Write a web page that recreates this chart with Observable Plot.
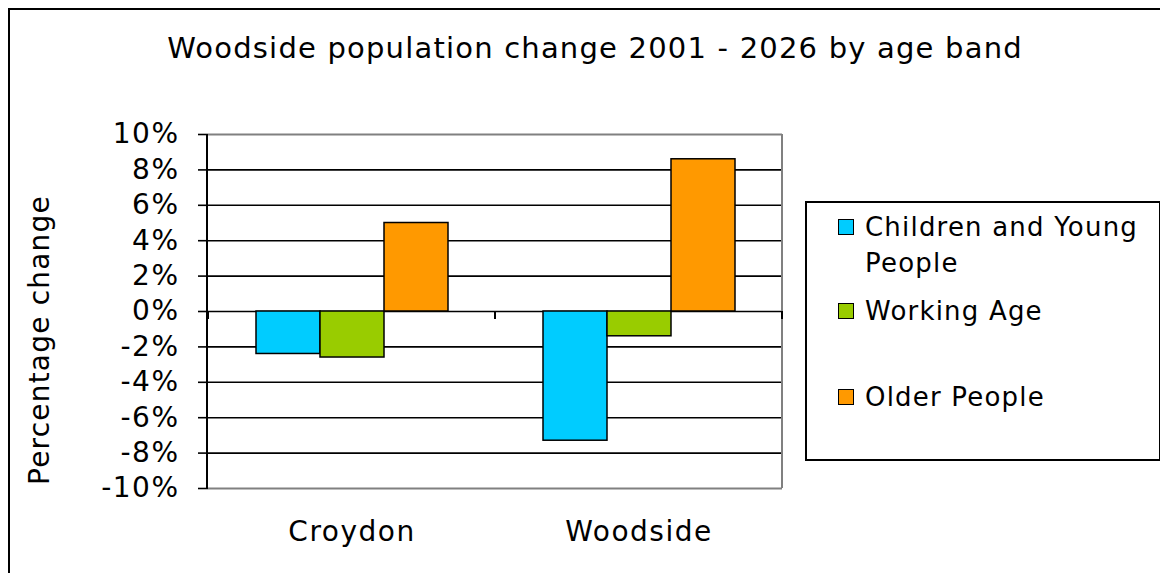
<!DOCTYPE html>
<html><head><meta charset="utf-8">
<script src="https://cdn.jsdelivr.net/npm/d3@7"></script>
<script src="https://cdn.jsdelivr.net/npm/@observablehq/plot@0.6"></script>
<style>
body{margin:0;background:#fff;font-family:"DejaVu Sans",sans-serif;}
#wrap{position:relative;width:1160px;height:573px;overflow:hidden;background:#fff;}
#border{position:absolute;left:8px;top:8px;width:1300px;height:800px;border:2px solid #000;box-sizing:border-box;}
#chart{position:absolute;left:0;top:0;}
#title{position:absolute;left:0;top:30px;width:1190px;text-align:center;font-size:29px;line-height:36px;letter-spacing:1.2px;white-space:nowrap;}
#ylabel{position:absolute;left:-160px;top:322px;width:400px;height:36px;text-align:center;font-size:28px;line-height:36px;letter-spacing:1.2px;transform:rotate(-90deg);transform-origin:center;white-space:nowrap;}
#legend{position:absolute;left:805px;top:201px;width:356px;height:260px;border:2px solid #000;box-sizing:border-box;background:#fff;}
.item{position:absolute;left:31px;font-size:26px;line-height:36px;letter-spacing:1.2px;width:300px;}
.sw{position:absolute;left:0;top:10px;width:16px;height:16px;border:1.5px solid #000;box-sizing:border-box;}
.txt{position:absolute;left:27px;width:290px;}
</style></head>
<body>
<div id="wrap">
<div id="border"></div>
<div id="chart"></div>
<div id="title">Woodside population change 2001 - 2026 by age band</div>
<div id="ylabel">Percentage change</div>
<div id="legend"></div>
</div>
<script>
const categories = ["Croydon", "Woodside"];
const series = ["Children and Young People", "Working Age", "Older People"];
const colors = ["#00CCFF", "#99CC00", "#FF9900"];
const croydonValues = [-2.4, -2.6, 5.0];
const woodsideValues = [-7.3, -1.4, 8.6];
const yTicks = [-10, -8, -6, -4, -2, 0, 2, 4, 6, 8, 10];

const data = [];
[croydonValues, woodsideValues].forEach((vals, i) =>
  vals.forEach((v, j) => data.push({category: categories[i], series: series[j], value: v})));

const plot = Plot.plot({
  width: 790, height: 573,
  marginLeft: 207, marginRight: 8, marginTop: 134, marginBottom: 85,
  style: {fontFamily: "DejaVu Sans", fontSize: "28px", letterSpacing: "1.5px", background: "transparent", color: "#000", overflow: "visible"},
  fx: {domain: categories, padding: 0, label: null, tickSize: 0, tickPadding: 33},
  x: {domain: series, paddingInner: 0, paddingOuter: 0.74, axis: null},
  y: {domain: [-10, 10], ticks: yTicks, tickFormat: d => d + "%", tickSize: 10, tickPadding: 19, label: null},
  color: {domain: series, range: colors},
  marks: [
    Plot.ruleY(yTicks.filter(t => t > -10 && t < 10), {stroke: "#000", strokeWidth: 1.6}),
    Plot.ruleY([-10, 10], {stroke: "#808080", strokeWidth: 2}),
    Plot.barY(data, {fx: "category", x: "series", y: "value", fill: "series", stroke: "#000", strokeWidth: 1.5})
  ]
});
document.getElementById("chart").appendChild(plot);
d3.select(plot).selectAll("[aria-label='y-axis tick'] path, [aria-label='y-axis tick']").attr("stroke-width", 1.6);

// frame verticals and category separator ticks, from the plot's own scales
const fx = plot.scale("fx"), ys = plot.scale("y");
const [xl, xr] = fx.range;
const [yb, yt] = ys.range;
const y0 = ys.apply(0);
const svg = d3.select(plot);
svg.append("line").attr("x1", xr).attr("x2", xr).attr("y1", yt).attr("y2", yb).attr("stroke", "#808080").attr("stroke-width", 2);
svg.append("line").attr("x1", xl).attr("x2", xl).attr("y1", yt).attr("y2", yb + 1).attr("stroke", "#000").attr("stroke-width", 2);
const bounds = categories.map(c => fx.apply(c)).concat([xr]);
bounds.forEach(b => svg.append("line").attr("x1", b).attr("x2", b).attr("y1", y0).attr("y2", y0 + 8).attr("stroke", "#000").attr("stroke-width", 2));

// legend
const legendTops = [6, 90, 176];
const legend = document.getElementById("legend");
series.forEach((s, i) => {
  const it = document.createElement("div");
  it.className = "item";
  it.style.top = legendTops[i] + "px";
  it.innerHTML = `<div class="sw" style="background:${colors[i]}"></div><div class="txt">${s}</div>`;
  legend.appendChild(it);
});
</script>
</body></html>
